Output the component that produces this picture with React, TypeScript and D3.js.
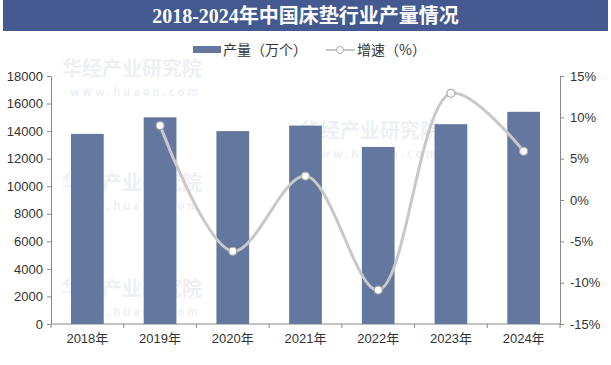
import React, { useEffect, useRef } from "react";
import * as d3 from "d3";

const years = ["2018年", "2019年", "2020年", "2021年", "2022年", "2023年", "2024年"];
const output = [13800, 15000, 14000, 14400, 12850, 14500, 15400];
const growth: (number | null)[] = [null, 9.0, -6.2, 2.9, -10.9, 12.9, 5.9];
const leftTicks = [0, 2000, 4000, 6000, 8000, 10000, 12000, 14000, 16000, 18000];
const rightTicks = [-15, -10, -5, 0, 5, 10, 15];

export default function App() {
  const ref = useRef<SVGSVGElement>(null);

  useEffect(() => {
    const svg = d3.select(ref.current);
    svg.selectAll("*").remove();
    const width = 611;
    const left = 51;
    const right = 560;
    const top = 76;
    const bottom = 324;

    // faint watermarks
    const wm = svg.append("g").style("fill", "#eef0f4").attr("font-family", "Noto Sans CJK SC").attr("font-weight", "bold");
    [[62, 76], [62, 190], [300, 138], [62, 296]].forEach(([x, y]) => {
      wm.append("text").attr("x", x).attr("y", y).attr("font-size", 20).text("华经产业研究院");
      wm.append("text").attr("x", x + 8).attr("y", y + 20).attr("font-size", 11).attr("letter-spacing", 3).text("www.huaon.com");
    });

    svg.append("rect").attr("x", 3).attr("y", 0).attr("width", 605).attr("height", 31).attr("fill", "#43598f");
    svg.append("text")
      .attr("x", width / 2)
      .attr("y", 23)
      .attr("text-anchor", "middle")
      .attr("font-family", "Liberation Serif, Noto Sans CJK SC")
      .attr("font-weight", "bold")
      .attr("font-size", 20)
      .style("fill", "white")
      .text("2018-2024年中国床垫行业产量情况");

    const x = d3.scaleBand().domain(years).range([left, right]).paddingInner(0.55).paddingOuter(0.275);
    const xc = d3.scaleBand().domain(years).range([left, right]);
    const y = d3.scaleLinear().domain([0, 18000]).range([bottom, top]);
    const y2 = d3.scaleLinear().domain([-15, 15]).range([bottom, top]);

    const font = "Liberation Sans, Arial, Noto Sans CJK SC";

    const ax = svg.append("g").attr("transform", `translate(0,${bottom})`)
      .call(d3.axisBottom(xc).tickSize(0).tickPadding(10));
    ax.select(".domain").remove();
    ax.selectAll("text").attr("font-size", 13).attr("font-family", font).style("fill", "#333");
    svg.append("g").selectAll("line").data(d3.range(8)).enter().append("line")
      .attr("x1", (i) => left + i * xc.bandwidth()).attr("x2", (i) => left + i * xc.bandwidth())
      .attr("y1", bottom).attr("y2", bottom + 4).attr("stroke", "#888");

    const ay = svg.append("g").attr("transform", `translate(${left},0)`)
      .call(d3.axisLeft(y).tickValues(leftTicks).tickSize(4).tickSizeOuter(0).tickPadding(4).tickFormat(d3.format("d")));
    ay.selectAll("text").attr("font-size", 13).attr("font-family", font).style("fill", "#333");

    const ay2 = svg.append("g").attr("transform", `translate(${right},0)`)
      .call(d3.axisRight(y2).tickValues(rightTicks).tickSize(4).tickSizeOuter(0).tickPadding(6).tickFormat((d) => `${d}%`));
    ay2.selectAll("text").attr("font-size", 13).attr("font-family", font).style("fill", "#333");

    svg.selectAll(".domain, .tick line").attr("stroke", "#888");

    svg.append("line").attr("x1", left).attr("x2", right).attr("y1", bottom).attr("y2", bottom).attr("stroke", "#888");

    svg.append("g").selectAll("rect").data(output).enter().append("rect")
      .attr("x", (_, i) => x(years[i])!)
      .attr("y", (d) => y(d))
      .attr("width", x.bandwidth())
      .attr("height", (d) => bottom - y(d))
      .attr("fill", "#63779f");

    const pts = growth.map((g, i) => ({ g, i })).filter((p) => p.g !== null) as { g: number; i: number }[];
    const line = d3.line<{ g: number; i: number }>()
      .x((p) => xc(years[p.i])! + xc.bandwidth() / 2)
      .y((p) => y2(p.g))
      .curve(d3.curveCatmullRom.alpha(0.5));
    svg.append("path").attr("d", line(pts)).attr("fill", "none").attr("stroke", "#c8c8c8").attr("stroke-width", 3);
    svg.append("g").selectAll("circle").data(pts).enter().append("circle")
      .attr("cx", (p) => xc(years[p.i])! + xc.bandwidth() / 2)
      .attr("cy", (p) => y2(p.g))
      .attr("r", 4)
      .attr("fill", "white")
      .attr("stroke", "#aaa")
      .attr("stroke-width", 1.2);

    // legend
    const lg = svg.append("g").attr("font-family", "Noto Sans CJK SC").attr("font-size", 14).style("fill", "#333");
    lg.append("rect").attr("x", 193).attr("y", 46).attr("width", 28).attr("height", 7).attr("fill", "#63779f");
    lg.append("text").attr("x", 223).attr("y", 55).text("产量（万个）");
    lg.append("line").attr("x1", 326).attr("x2", 355).attr("y1", 50).attr("y2", 50).attr("stroke", "#c8c8c8").attr("stroke-width", 2);
    lg.append("circle").attr("cx", 340).attr("cy", 50).attr("r", 3.5).attr("fill", "white").attr("stroke", "#aaa");
    lg.append("text").attr("x", 357).attr("y", 55).text("增速（%）");
  }, []);

  return (
    <svg ref={ref} width={611} height={365} style={{ position: "absolute", left: 0, top: 0, background: "white" }} />
  );
}
